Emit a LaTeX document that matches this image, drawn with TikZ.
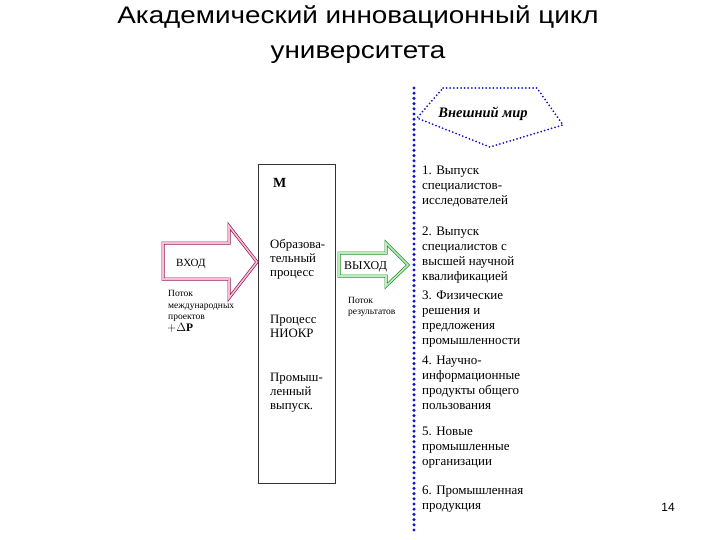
\documentclass[tikz,border=0pt]{standalone}
\usepackage{fontspec}
\setmainfont{Liberation Serif}
\newfontfamily\titlefont[FakeStretch=1.16]{Liberation Sans}
\newfontfamily\pagefont{Liberation Sans}
\definecolor{dotblue}{RGB}{20,20,200}
\definecolor{inmag}{RGB}{150,20,80}
\definecolor{inpink}{RGB}{245,190,215}
\definecolor{outgreen}{RGB}{30,140,40}
\definecolor{outlight}{RGB}{190,235,190}
\tikzset{
  listtxt/.style={anchor=north west, inner sep=0pt, align=left, font=\fontsize{13}{15}\selectfont, execute at begin node=\strut},
  boxtxt/.style={anchor=north west, inner sep=0pt, align=left, font=\fontsize{12.8}{14}\selectfont, execute at begin node=\strut},
  smalltxt/.style={anchor=north west, inner sep=0pt, align=left, font=\fontsize{9.5}{11.5}\selectfont, execute at begin node=\strut},
  inarrow/.style={draw=inmag, double=inpink, double distance=1.6pt, line width=0.7pt, line join=miter},
  outarrow/.style={draw=outgreen, double=outlight, double distance=1.6pt, line width=0.7pt, line join=miter},
}
\begin{document}
\begin{tikzpicture}[x=1pt,y=-1pt]
\useasboundingbox (0,0) rectangle (720,540);
% title (first baseline 30, strut 0.7*35=24.5)
\node[font=\titlefont\fontsize{24}{35}\selectfont, align=center, anchor=north, inner sep=0pt, execute at begin node=\strut] (title) at (358,5.5) {Академический инновационный цикл\\университета};
% box M
\node[draw=black!80, line width=0.8pt, minimum width=77pt, minimum height=319pt, inner sep=0pt] (M) at (296.5,323.5) {};
\node[anchor=base west, inner sep=0pt, font=\bfseries\fontsize{14}{14}\selectfont] (Mlab) at (273,188) {M};
\node[boxtxt] (edu) at (270,239) {Образова-\\тельный\\процесс};
\node[boxtxt] (niokr) at (270,315) {Процесс\\НИОКР};
\node[boxtxt] (prom) at (270,373) {Промыш-\\ленный\\выпуск.};
% input arrow
\draw[inarrow] (163,243) -- (229,243) -- (229,226) -- (257,262) -- (229,298) -- (229,279) -- (163,279) -- cycle;
\node[anchor=base west, inner sep=0pt, font=\fontsize{11}{11}\selectfont] (vhod) at (176,266) {ВХОД};
\node[smalltxt] (potok1) at (168,290.5) {Поток\\международных\\проектов};
\node[anchor=base west, inner sep=0pt, font=\fontsize{11.5}{11.5}\selectfont] (dp) at (167,331.5) {$+\Delta$\textbf{P}};
% output arrow
\draw[outarrow] (339,253) -- (386,253) -- (386,243) -- (408,265) -- (386,286) -- (386,276) -- (339,276) -- cycle;
\node[anchor=base west, inner sep=0pt, font=\fontsize{12}{12}\selectfont] (vyhod) at (344,269.5) {ВЫХОД};
\node[smalltxt] (potok2) at (348,296.9) {Поток\\результатов};
% dotted vertical line
\coordinate (ltop) at (414,88);
\coordinate (lbot) at (414,535);
\draw[dotblue, line width=3.4pt, line cap=round, dash pattern=on 0pt off 5.2pt] (ltop) -- (lbot);
% external world pentagon
\draw[dotblue, line width=2pt, line cap=round, dash pattern=on 0pt off 3.6pt] (443,88) -- (537,88) -- (563,125) -- (490,147) -- (417,118) -- cycle;
\node[font=\bfseries\itshape\fontsize{14.5}{14.5}\selectfont, inner sep=0pt] (world) at (483,114) {Внешний мир};
% list
\node[listtxt] (i1) at (422,165.5) {1. Выпуск\\специалистов-\\исследователей};
\node[listtxt] (i2) at (422,226.5) {2. Выпуск\\специалистов с\\высшей научной\\квалификацией};
\node[listtxt] (i3) at (422,290.5) {3. Физические\\решения и\\предложения\\промышленности};
\node[listtxt] (i4) at (422,356) {4. Научно-\\информационные\\продукты общего\\пользования};
\node[listtxt] (i5) at (422,426.5) {5. Новые\\промышленные\\организации};
\node[listtxt] (i6) at (422,485.5) {6. Промышленная\\продукция};
% page number
\node[font=\pagefont\fontsize{12}{12}\selectfont, anchor=base] (pg) at (668,511) {14};
\end{tikzpicture}
\end{document}
